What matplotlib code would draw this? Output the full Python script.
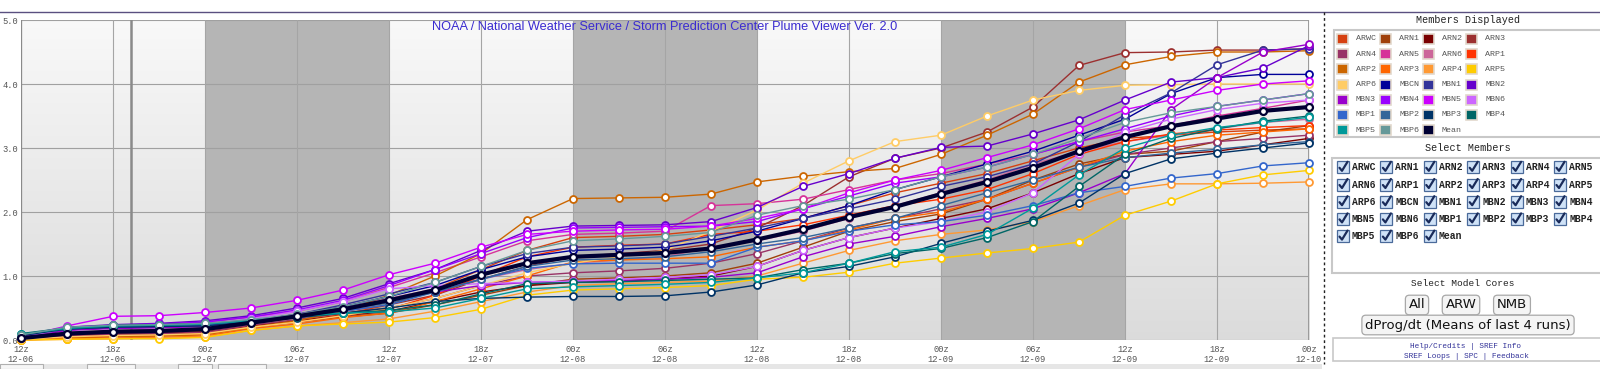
import numpy as np
import matplotlib.pyplot as plt
from matplotlib.patches import Rectangle
from matplotlib.lines import Line2D

W, H = 1600, 369

# 3-hourly steps from 12z 12-06 to 00z 12-10
tick_labels = ['12z\n12-06', '18z\n12-06', '00z\n12-07', '06z\n12-07', '12z\n12-07',
               '18z\n12-07', '00z\n12-08', '06z\n12-08', '12z\n12-08', '18z\n12-08',
               '00z\n12-09', '06z\n12-09', '12z\n12-09', '18z\n12-09', '00z\n12-10']
y_ticks = [0.0, 1.0, 2.0, 3.0, 4.0, 5.0]

names = ['ARWC', 'ARN1', 'ARN2', 'ARN3', 'ARN4', 'ARN5', 'ARN6', 'ARP1', 'ARP2',
         'ARP3', 'ARP4', 'ARP5', 'ARP6', 'MBCN', 'MBN1', 'MBN2', 'MBN3', 'MBN4',
         'MBN5', 'MBN6', 'MBP1', 'MBP2', 'MBP3', 'MBP4', 'MBP5', 'MBP6', 'Mean']
colors = ['#d6400f', '#a0400a', '#7a0000', '#9c3030', '#993366', '#d63399', '#cc6699',
          '#ff3300', '#cc6600', '#ff6600', '#ff9933', '#ffcc00', '#ffcc66', '#000099',
          '#333399', '#6600cc', '#9900cc', '#9900ff', '#cc00ff', '#cc66ff', '#3366cc',
          '#336699', '#003366', '#006666', '#009999', '#669999', '#000033']

arwc = [0.02,0.06,0.08,0.09,0.11,0.22,0.30,0.40,0.55, 0.80,1.10,1.40,1.60,1.62,1.65,1.72,1.80, 1.90,2.10,2.30,2.45,2.60,2.80,3.00,3.15, 3.20,3.25,3.28,3.30]
arn1 = [0.02,0.05,0.07,0.08,0.10,0.20,0.28,0.36,0.42, 0.55,0.70,0.85,0.95,0.97,1.00,1.05,1.20, 1.45,1.70,1.85,1.97,2.20,2.50,2.75,2.90, 2.95,3.10,3.25,3.35]
arn2 = [0.03,0.08,0.10,0.11,0.13,0.22,0.30,0.38,0.45, 0.60,0.75,0.85,0.90,0.92,0.95,1.00,1.15, 1.40,1.60,1.75,1.90,2.05,2.30,2.60,2.85, 2.90,2.95,3.05,3.15]
arn3 = [0.03,0.08,0.11,0.12,0.15,0.25,0.35,0.45,0.55, 0.70,0.95,1.15,1.30,1.35,1.40,1.50,1.75, 2.10,2.55,2.84,3.00,3.25,3.64,4.29,4.49, 4.50,4.53,4.53,4.55]
arn4 = [0.02,0.06,0.09,0.10,0.12,0.23,0.32,0.42,0.50, 0.65,0.85,1.00,1.05,1.08,1.12,1.20,1.35, 1.55,1.75,1.90,2.05,2.20,2.45,2.70,2.90, 3.00,3.10,3.15,3.20]
arn5 = [0.04,0.18,0.22,0.24,0.28,0.36,0.45,0.60,0.82, 1.05,1.30,1.55,1.65,1.67,1.70,2.10,2.13, 2.20,2.35,2.50,2.60,2.75,2.90,3.10,3.25, 3.35,3.50,3.62,3.75]
arn6 = [0.03,0.12,0.15,0.16,0.19,0.28,0.38,0.50,0.65, 0.80,0.95,1.10,1.20,1.25,1.30,1.45,1.55, 1.70,1.90,2.10,2.30,2.50,2.75,2.95,3.10, 3.20,3.30,3.40,3.45]
arp1 = [0.01,0.04,0.06,0.07,0.09,0.20,0.28,0.38,0.48, 0.70,1.00,1.30,1.45,1.48,1.50,1.65,1.70, 1.80,1.95,2.10,2.20,2.35,2.60,2.90,3.10, 3.22,3.28,3.32,3.35]
arp2 = [0.00,0.03,0.05,0.06,0.08,0.20,0.30,0.45,0.70, 1.00,1.35,1.88,2.21,2.22,2.23,2.28,2.47, 2.56,2.63,2.68,2.90,3.20,3.53,4.03,4.30, 4.43,4.50,4.50,4.52]
arp3 = [0.00,0.02,0.03,0.04,0.06,0.18,0.25,0.35,0.42, 0.60,0.80,1.00,1.22,1.25,1.27,1.30,1.45, 1.55,1.72,1.90,2.00,2.20,2.45,2.70,2.95, 3.10,3.20,3.25,3.30]
arp4 = [0.00,0.01,0.02,0.03,0.05,0.15,0.22,0.27,0.33, 0.45,0.60,0.75,0.85,0.88,0.90,0.92,1.00, 1.20,1.40,1.55,1.65,1.72,1.85,2.10,2.35, 2.44,2.44,2.45,2.47]
arp5 = [0.00,0.01,0.02,0.02,0.04,0.15,0.22,0.25,0.28, 0.35,0.48,0.70,0.78,0.80,0.82,0.85,0.95, 0.98,1.06,1.20,1.28,1.36,1.43,1.53,1.95, 2.17,2.44,2.58,2.65]
arp6 = [0.01,0.05,0.07,0.08,0.10,0.20,0.28,0.38,0.50, 0.65,0.85,1.05,1.20,1.30,1.40,1.70,2.03, 2.45,2.80,3.10,3.20,3.50,3.75,3.90,3.98, 3.99,4.00,4.00,4.00]
mbcn = [0.06,0.18,0.20,0.21,0.22,0.30,0.40,0.52,0.68, 0.85,1.10,1.30,1.40,1.42,1.45,1.55,1.70, 1.90,2.10,2.35,2.55,2.75,2.95,3.20,3.45, 3.85,4.10,4.15,4.15]
mbn1 = [0.05,0.16,0.19,0.20,0.22,0.30,0.40,0.55,0.72, 0.90,1.15,1.35,1.45,1.47,1.50,1.62,1.75, 1.90,2.05,2.20,2.40,2.55,2.75,3.10,3.52, 3.86,4.30,4.53,4.55]
mbn2 = [0.04,0.20,0.24,0.26,0.30,0.38,0.50,0.65,0.88, 1.10,1.40,1.70,1.78,1.79,1.80,1.85,2.07, 2.40,2.60,2.84,3.01,3.03,3.22,3.44,3.75, 4.03,4.10,4.25,4.60]
mbn3 = [0.03,0.15,0.18,0.19,0.21,0.30,0.40,0.50,0.62, 0.75,0.85,0.90,0.92,0.93,0.95,0.98,1.05, 1.30,1.50,1.62,1.77,1.90,2.05,2.30,2.60, 3.60,4.10,4.50,4.62]
mbn4 = [0.05,0.20,0.23,0.25,0.28,0.36,0.47,0.62,0.85, 1.10,1.35,1.60,1.75,1.76,1.77,1.78,1.85, 2.05,2.25,2.45,2.55,2.70,2.90,3.10,3.30, 3.50,3.65,3.75,3.85]
mbn5 = [0.05,0.22,0.37,0.38,0.43,0.50,0.62,0.78,1.02, 1.20,1.45,1.65,1.70,1.72,1.73,1.78,1.90, 2.05,2.30,2.50,2.65,2.85,3.05,3.30,3.60, 3.75,3.90,4.00,4.05]
mbn6 = [0.04,0.18,0.21,0.22,0.25,0.33,0.45,0.60,0.80, 0.85,0.88,0.90,0.92,0.95,0.98,1.02,1.15, 1.40,1.60,1.75,1.85,2.00,2.30,2.90,3.25, 3.45,3.60,3.70,3.75]
mbp1 = [0.07,0.18,0.21,0.22,0.24,0.30,0.37,0.45,0.55, 0.75,0.95,1.12,1.19,1.20,1.20,1.20,1.45, 1.55,1.70,1.80,1.85,1.95,2.10,2.30,2.40, 2.53,2.60,2.72,2.77]
mbp2 = [0.08,0.19,0.22,0.23,0.25,0.30,0.38,0.47,0.58, 0.75,0.95,1.15,1.25,1.27,1.30,1.38,1.50, 1.60,1.75,1.90,2.10,2.30,2.50,2.70,2.85, 2.92,2.98,3.05,3.10]
mbp3 = [0.07,0.17,0.20,0.21,0.22,0.28,0.35,0.42,0.50, 0.60,0.65,0.67,0.68,0.68,0.69,0.75,0.86, 1.05,1.15,1.30,1.51,1.70,1.87,2.14,2.60, 2.83,2.92,3.00,3.08]
mbp4 = [0.10,0.19,0.23,0.24,0.26,0.30,0.36,0.42,0.46, 0.55,0.72,0.88,0.90,0.91,0.93,0.95,0.97, 1.10,1.20,1.35,1.43,1.60,1.85,2.40,2.90, 3.15,3.30,3.42,3.50]
mbp5 = [0.09,0.18,0.22,0.23,0.25,0.30,0.37,0.42,0.44, 0.50,0.65,0.80,0.83,0.85,0.87,0.90,0.97, 1.05,1.20,1.38,1.45,1.65,2.06,2.58,3.00, 3.20,3.32,3.40,3.48]
mbp6 = [0.08,0.20,0.23,0.24,0.26,0.32,0.40,0.52,0.68, 0.90,1.15,1.40,1.55,1.58,1.62,1.68,1.95, 2.10,2.20,2.35,2.55,2.70,2.90,3.15,3.40, 3.55,3.65,3.75,3.85]
mean = [0.03,0.10,0.13,0.14,0.17,0.27,0.37,0.48,0.62, 0.78,1.02,1.20,1.30,1.33,1.36,1.43,1.57, 1.73,1.92,2.08,2.28,2.47,2.69,2.95,3.17, 3.34,3.46,3.58,3.64]

series = [arwc, arn1, arn2, arn3, arn4, arn5, arn6, arp1, arp2, arp3, arp4, arp5, arp6,
          mbcn, mbn1, mbn2, mbn3, mbn4, mbn5, mbn6, mbp1, mbp2, mbp3, mbp4, mbp5, mbp6, mean]

# night shading 00z-12z (in 3h steps)
night = [(4, 8), (12, 16), (20, 24)]
now_step = 2.4


def fx(x):
    return x / W


def fy(y):
    return 1 - y / H


fig = plt.figure(figsize=(W / 100, H / 100), dpi=100)
fig.patch.set_facecolor('white')

ax = fig.add_axes([fx(21), fy(340), 1288 / W, 320 / H])
x = np.arange(len(mean))
ax.set_xlim(0, len(mean) - 1)
ax.set_ylim(0, 5)

grad = np.linspace(0.975, 0.86, 200)[:, None]
ax.imshow(np.dstack([grad, grad, grad]), extent=[0, 28, 0, 5], aspect='auto', zorder=0)
for a, b in night:
    ax.axvspan(a, b, color='#b5b5b5', zorder=1, lw=0)
for yv in y_ticks:
    ax.axhline(yv, color='#a0a0a0', lw=0.8, zorder=2)
for xv in range(0, 29, 2):
    ax.axvline(xv, color='#a5a5a5', lw=0.8, zorder=2)
ax.axvline(0, color='#8a8a8a', lw=1.6, zorder=2)
ax.axvline(28, color='#9a9a9a', lw=1.4, zorder=2)
ax.axvline(now_step, color='#8a8a8a', lw=1.8, zorder=2)

for name, c, v in zip(names, colors, series):
    if name == 'Mean':
        ax.plot(x, v, color=c, lw=3, marker='o', ms=5, mfc='white', mec=c, mew=1.6,
                zorder=5, clip_on=False)
    else:
        ax.plot(x, v, color=c, lw=1, marker='o', ms=5, mfc='white', mec=c, mew=1.3,
                zorder=4, clip_on=False)

for s in ax.spines.values():
    s.set_visible(False)
ax.set_yticks(y_ticks)
ax.set_yticklabels(['%.1f' % v for v in y_ticks])
ax.set_xticks(range(0, 29, 2))
ax.set_xticklabels(tick_labels, linespacing=1.2)
ax.tick_params(length=0, labelsize=6.3, colors='#555555', pad=2)
for lab in ax.get_xticklabels() + ax.get_yticklabels():
    lab.set_family('Liberation Mono')
ax.tick_params(axis='x', pad=3.5)

ax.text(0.5, 0.978, 'NOAA / National Weather Service / Storm Prediction Center Plume Viewer Ver. 2.0',
        transform=ax.transAxes, ha='center', va='center', color='#3a2bd0',
        fontsize=9.2, family='Liberation Sans', zorder=6)

# top rule and dashed divider
fig.add_artist(Line2D([0, 1], [fy(12), fy(12)], color='#5a5080', lw=1))
fig.add_artist(Line2D([fx(1324), fx(1324)], [fy(12), fy(364)], color='#222222', lw=1,
                      linestyle=(0, (2, 2))))

# browser tab strip at the bottom
fig.add_artist(Rectangle((0, 0), fx(1322), 5 / H, color='#e6e6e6', lw=0))
for tx0, tx1 in [(0, 43), (87, 135), (178, 212), (218, 266)]:
    fig.add_artist(Rectangle((fx(tx0), 0), (tx1 - tx0) / W, 5 / H, fc='#f6f6f6',
                             ec='#b0b0b0', lw=0.8))

mono = 'Liberation Mono'

# Members Displayed
fig.text(fx(1468), fy(20), 'Members Displayed', ha='center', va='center', fontsize=7.3,
         family=mono, color='#222222')
fig.add_artist(Rectangle((fx(1334), fy(137)), fx(270), 107 / H, fc='white', ec='#c8c8c8', lw=1.5))
for k, (name, c) in enumerate(zip(names, colors)):
    r, col = divmod(k, 4)
    sx = 1337 + col * 43
    sy = 39 + r * 15.2
    fig.add_artist(Rectangle((fx(sx), fy(sy + 5)), 11 / W, 10 / H, fc=c, ec='#e2d8cc', lw=1.2))
    fig.text(fx(sx + 19), fy(sy), name, ha='left', va='center', fontsize=6, family=mono,
             color='#555555')

# Select Members
fig.text(fx(1468), fy(148), 'Select Members', ha='center', va='center', fontsize=7.3,
         family=mono, color='#222222')
fig.add_artist(Rectangle((fx(1332), fy(273)), fx(272), 115 / H, fc='white', ec='#c8c8c8', lw=1.5))
for k, name in enumerate(names):
    r, col = divmod(k, 6)
    cx = 1343 + col * 43.4
    cy = 167.3 + r * 17.2
    fig.add_artist(Rectangle((fx(cx - 6), fy(cy + 6)), 12 / W, 12 / H, fc='#cfe2f7',
                             ec='#4a6a9a', lw=0.9))
    fig.add_artist(Line2D([fx(cx - 3.5), fx(cx - 1), fx(cx + 4.5)],
                          [fy(cy + 0.5), fy(cy + 3.5), fy(cy - 5.5)],
                          color='#1a2b5a', lw=1.6, solid_capstyle='round'))
    fig.text(fx(cx + 9), fy(cy), name, ha='left', va='center', fontsize=7, family=mono,
             color='#222222', fontweight='bold')

# Model cores buttons
fig.text(fx(1463), fy(284), 'Select Model Cores', ha='center', va='center', fontsize=6.8,
         family=mono, color='#222222')
btn = dict(boxstyle='round,pad=0.25,rounding_size=0.3', fc='#f4f4f4', ec='#a8a8a8', lw=0.9)
for label, cxp in [('All', 1417), ('ARW', 1461), ('NMB', 1512)]:
    fig.text(fx(cxp), fy(305), label, ha='center', va='center', fontsize=9.5,
             family='DejaVu Sans', color='#111111', bbox=btn)
fig.text(fx(1468), fy(325), 'dProg/dt (Means of last 4 runs)', ha='center', va='center',
         fontsize=9.5, family='DejaVu Sans', color='#111111', bbox=btn)

# links
fig.add_artist(Rectangle((fx(1333), fy(361)), fx(270), 23 / H, fc='white', ec='#c8c8c8', lw=1.2))
fig.text(fx(1466), fy(346), 'Help/Credits | SREF Info', ha='center', va='center', fontsize=5.6,
         family=mono, color='#333399')
fig.text(fx(1466), fy(356), 'SREF Loops | SPC | Feedback', ha='center', va='center', fontsize=5.6,
         family=mono, color='#333399')

fig.savefig('out.png', dpi=100)
